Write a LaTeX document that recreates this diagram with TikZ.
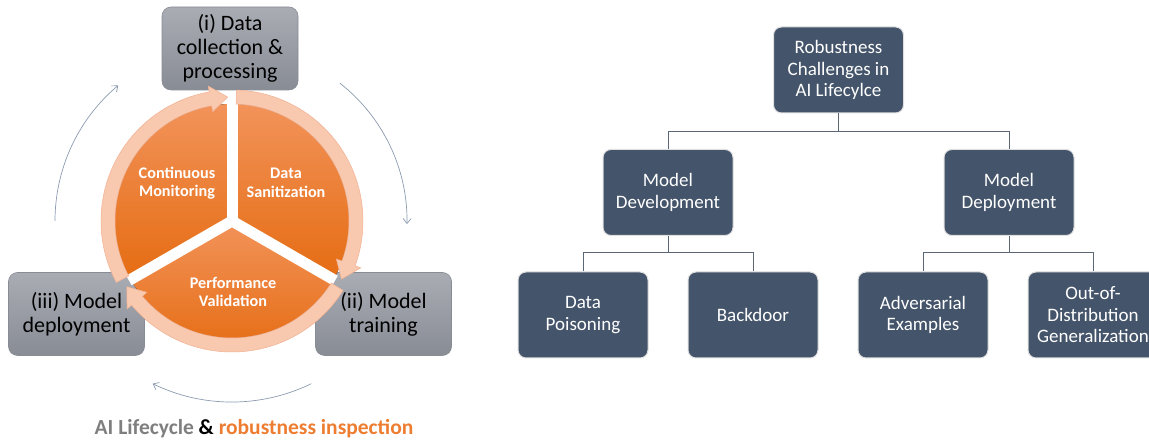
\documentclass[tikz,border=0pt]{standalone}
\usepackage{fontspec}
\setmainfont{Carlito}
\usetikzlibrary{arrows.meta}
\definecolor{slate}{HTML}{44546A}
\definecolor{lineslate}{HTML}{5B6777}
\definecolor{boxtop}{HTML}{A9ACB3}
\definecolor{boxbot}{HTML}{888C95}
\definecolor{pietop}{HTML}{F2935A}
\definecolor{piebot}{HTML}{E56C12}
\definecolor{band}{HTML}{F8C9AF}
\definecolor{bandedge}{HTML}{F0B091}
\definecolor{cyclegray}{HTML}{8C9BB0}
\definecolor{capgray}{HTML}{7F7F7F}
\definecolor{caporange}{HTML}{ED7D31}

\begin{document}
\begin{tikzpicture}[x=1pt,y=1pt,
        stagebox/.style={rounded corners=9pt, top color=boxtop, bottom color=boxbot, draw=boxbot,
            line width=0.6pt, minimum width=136pt, minimum height=83pt, align=center,
            font=\fontsize{22}{24}\selectfont},
        treebox/.style={rounded corners=8pt, fill=slate, draw=gray!25, line width=1pt,
            minimum width=130pt, minimum height=86pt, align=center, text=white,
            font=\fontsize{19}{21.5}\selectfont},
        pielabel/.style={text=white, align=center, font=\bfseries\fontsize{16.2}{18.5}\selectfont},
        cyclearrow/.style={draw=cyclegray, line width=0.7pt, -{Straight Barb[length=5pt,width=8pt]}},
        treeline/.style={draw=lineslate, line width=1pt}]
            \useasboundingbox (0,0) rectangle (1149,443);
            \clip (0,0) rectangle (1149,443);

            % lifecycle stages
            \node[stagebox] (collect) at (230,394.5) {(i) Data\\collection \&\\processing};
            \node[stagebox] (train) at (383.5,129) {(ii) Model\\training};
            \node[stagebox] (deploy) at (76.5,129) {(iii) Model\\deployment};

            % segmented cycle
            \coordinate (C) at (232,222);
            \foreach \s/\e in {90/210, -30/90, 210/330}
                \fill[top color=pietop, bottom color=piebot]
                    (C) -- ([shift={(\s:117)}]C) arc[start angle=\s, end angle=\e, radius=117] -- cycle;
            \foreach \g in {90,-30,210}
                \draw[white, line width=11pt] (C) -- ([shift={(\g:119)}]C);
            \foreach \a in {208,88,-32}{
                \pgfmathsetmacro\h{\a-108}
                \pgfmathsetmacro\t{\a-116}
                \fill[band, draw=bandedge, line width=0.5pt]
                    ([shift={(\a:131)}]C) arc[start angle=\a, end angle=\h, radius=131]
                    -- ([shift={(\h:137)}]C) -- ([shift={(\t:124)}]C) -- ([shift={(\h:111)}]C)
                    -- ([shift={(\h:117)}]C) arc[start angle=\h, end angle=\a, radius=117] -- cycle;
            }
            \node[pielabel] (monitor) at (177,260) {Continuous\\Monitoring};
            \node[pielabel] (sanitize) at (286,260) {Data\\Sanitization};
            \node[pielabel] (validate) at (233,151) {Performance\\Validation};

            \draw[cyclearrow] ([shift={(180:177)}]C) arc[start angle=180, end angle=130, radius=177];
            \draw[cyclearrow] ([shift={(52:175)}]C) arc[start angle=52, end angle=-1, radius=175];
            \draw[cyclearrow] ([shift={(-64:181)}]C) arc[start angle=-64, end angle=-116, radius=181];

            \node[anchor=base, font=\bfseries\fontsize{21.5}{24}\selectfont] (caption) at (254,8)
                {\textcolor{capgray}{AI Lifecycle} \& \textcolor{caporange}{robustness inspection}};

            % challenge tree
            \node[treebox] (root) at (838.5,373) {Robustness\\Challenges in\\AI Lifecylce};
            \node[treebox] (dev) at (668,250.5) {Model\\Development};
            \node[treebox] (dep) at (1009,250.5) {Model\\Deployment};
            \node[treebox] (poison) at (583,128) {Data\\Poisoning};
            \node[treebox] (backdoor) at (753,128) {Backdoor};
            \node[treebox] (adv) at (923,128) {Adversarial\\Examples};
            \node[treebox] (ood) at (1093,128) {Out-of-\\Distribution\\Generalization};

            \draw[treeline] (root.south) -- ++(0,-18) -| (dev.north);
            \draw[treeline] (root.south) -- ++(0,-18) -| (dep.north);
            \draw[treeline] (dev.south) -- ++(0,-17) -| (poison.north);
            \draw[treeline] (dev.south) -- ++(0,-17) -| (backdoor.north);
            \draw[treeline] (dep.south) -- ++(0,-17) -| (adv.north);
            \draw[treeline] (dep.south) -- ++(0,-17) -| (ood.north);
\end{tikzpicture}
\end{document}
